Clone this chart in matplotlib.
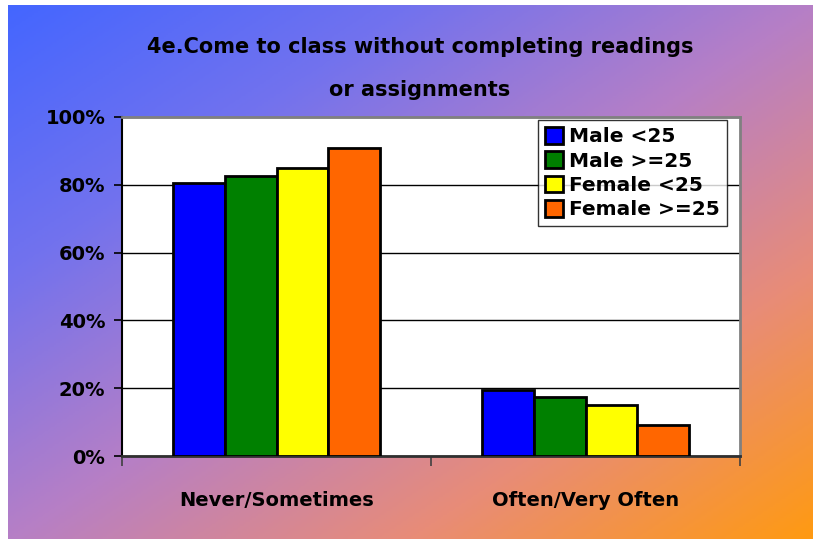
import numpy as np
import matplotlib
matplotlib.use("Agg")
import matplotlib.pyplot as plt
from matplotlib.colors import LinearSegmentedColormap
from matplotlib.patches import Patch

categories = ["Never/Sometimes", "Often/Very Often"]
series_names = ["Male <25", "Male >=25", "Female <25", "Female >=25"]
male_lt25 = [80.5, 19.5]
male_ge25 = [82.6, 17.4]
female_lt25 = [85.0, 15.0]
female_ge25 = [90.9, 9.1]
series_values = [male_lt25, male_ge25, female_lt25, female_ge25]
colors = ["#0000ff", "#008000", "#ffff00", "#ff6600"]
yticks = [0, 20, 40, 60, 80, 100]
ytick_labels = ["0%", "20%", "40%", "60%", "80%", "100%"]
title_lines = ["4e.Come to class without completing readings", "or assignments"]

plt.rcParams['font.family'] = ['DejaVu Sans']
plt.rcParams['font.weight'] = 'bold'

W, H = 813, 539
fig = plt.figure(figsize=(W / 100, H / 100), dpi=100, facecolor="white")

# gradient background
bg = fig.add_axes([8 / W, 0, 1 - 8 / W, 1 - 5 / H])
bg.set_axis_off()
nx, ny = 400, 270
xx, yy = np.meshgrid(np.linspace(0, 1, nx), np.linspace(0, 1, ny))
t = (xx + yy) / 2
cmap = LinearSegmentedColormap.from_list(
    "bg", [(0.0, "#4466ff"), (0.25, "#7272ee"), (0.5, "#b67fc6"),
           (0.75, "#e88c78"), (1.0, "#ff9a12")])
bg.imshow(t, cmap=cmap, aspect="auto", extent=[0, 1, 0, 1], origin="upper",
          vmin=0, vmax=1)

ax = fig.add_axes([122 / W, (H - 456) / H, 618 / W, 339 / H])
ax.set_facecolor("white")
x = np.arange(len(categories))
n = len(series_values)
group = 0.67
bw = group / n
for i, (vals, c, name) in enumerate(zip(series_values, colors, series_names)):
    ax.bar(x - group / 2 + bw * (i + 0.5), vals, width=bw, color=c,
           edgecolor="black", linewidth=2, label=name, zorder=3)

ax.set_xlim(-0.5, 1.5)
ax.set_ylim(0, 100)
ax.set_yticks(yticks)
ax.set_yticklabels(ytick_labels, fontsize=14, fontweight="bold")
ax.yaxis.grid(True, color="black", linewidth=1, zorder=0)
ax.set_axisbelow(True)
ax.set_xticks([-0.5, 0.5, 1.5])
ax.set_xticklabels([])
ax.set_xticks(x, minor=True)
ax.set_xticklabels(categories, minor=True, fontsize=14, fontweight="bold")
ax.tick_params(axis="x", which="minor", length=0, pad=25)
ax.tick_params(axis="x", which="major", length=7, width=1.2, color="#404040")
ax.tick_params(axis="y", length=6, width=1.2, pad=6)
for s in ["top", "right"]:
    ax.spines[s].set_color("#808080")
    ax.spines[s].set_linewidth(2)
ax.spines["left"].set_linewidth(1.5)
ax.spines["bottom"].set_linewidth(2)
ax.spines["bottom"].set_color("#303030")

handles = [Patch(facecolor=c, edgecolor="black", linewidth=2) for c in colors]
leg = ax.legend(handles, series_names, loc="upper right",
                bbox_to_anchor=(727 / W, (H - 120) / H), bbox_transform=fig.transFigure,
                prop={"size": 14.5, "weight": "bold"}, frameon=True, fancybox=False,
                handlelength=0.9, handleheight=0.9, handletextpad=0.3,
                labelspacing=0.25, borderpad=0.35, borderaxespad=0)
leg.get_frame().set_edgecolor("black")
leg.get_frame().set_linewidth(1)

fig.text(420 / W, 1 - 47 / H, title_lines[0], ha="center", va="center",
         fontsize=15, fontweight="bold")
fig.text(420 / W, 1 - 90 / H, title_lines[1], ha="center", va="center",
         fontsize=15, fontweight="bold")

fig.savefig("out.png", dpi=100, facecolor="white")
